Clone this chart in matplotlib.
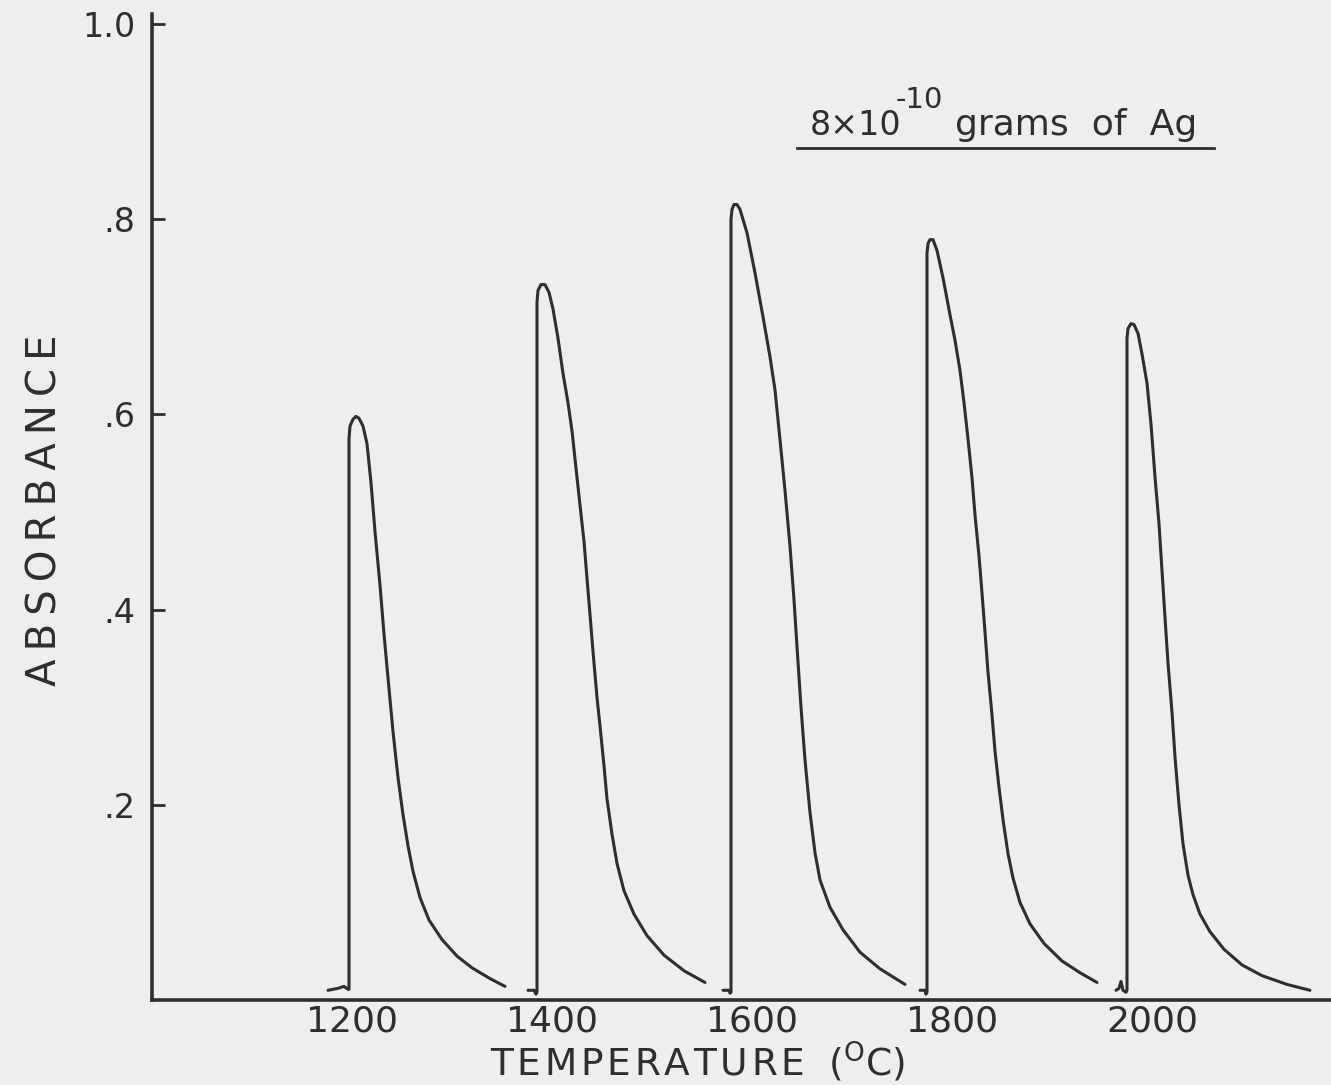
import matplotlib.pyplot as plt
from matplotlib.lines import Line2D

# Peak traces (temperature in deg C, absorbance)
peak_1200_t = [1176, 1186, 1192, 1196, 1197, 1197, 1198, 1201, 1204, 1207, 1211, 1215, 1219, 1223,
               1228, 1232, 1236, 1241, 1246, 1251, 1256, 1261, 1268, 1277, 1290, 1305, 1320, 1338, 1353]
peak_1200_a = [0.010, 0.012, 0.014, 0.011, 0.011, 0.575, 0.588, 0.595, 0.598, 0.596, 0.588, 0.570,
               0.530, 0.480, 0.425, 0.375, 0.330, 0.275, 0.228, 0.190, 0.158, 0.132, 0.105, 0.082,
               0.062, 0.045, 0.033, 0.022, 0.014]

peak_1400_t = [1376, 1382, 1384, 1385, 1385, 1386, 1389, 1393, 1397, 1401, 1406, 1411, 1416, 1420,
               1424, 1428, 1432, 1435, 1438, 1441, 1445, 1448, 1452, 1455, 1460, 1465, 1472, 1482,
               1495, 1512, 1532, 1553]
peak_1400_a = [0.010, 0.010, 0.006, 0.008, 0.715, 0.727, 0.733, 0.733, 0.725, 0.708, 0.678, 0.642,
               0.612, 0.583, 0.545, 0.507, 0.470, 0.432, 0.395, 0.357, 0.310, 0.281, 0.240, 0.206,
               0.170, 0.140, 0.112, 0.088, 0.066, 0.046, 0.030, 0.018]

peak_1600_t = [1571, 1577, 1578, 1579, 1579, 1580, 1582, 1585, 1588, 1595, 1603, 1611, 1618, 1623,
               1628, 1633, 1638, 1642, 1645, 1649, 1653, 1658, 1663, 1668, 1678, 1691, 1708, 1728,
               1753]
peak_1600_a = [0.010, 0.010, 0.007, 0.008, 0.800, 0.810, 0.815, 0.815, 0.810, 0.786, 0.745, 0.700,
               0.659, 0.625, 0.574, 0.522, 0.465, 0.410, 0.362, 0.300, 0.246, 0.192, 0.151, 0.123,
               0.095, 0.072, 0.049, 0.032, 0.016]

peak_1800_t = [1768, 1773, 1774, 1775, 1775, 1776, 1778, 1781, 1785, 1791, 1798, 1803, 1808, 1812,
               1816, 1820, 1823, 1827, 1830, 1833, 1836, 1840, 1843, 1847, 1851, 1856, 1861, 1868,
               1878, 1892, 1910, 1928, 1945]
peak_1800_a = [0.010, 0.010, 0.006, 0.008, 0.765, 0.775, 0.779, 0.779, 0.768, 0.740, 0.702, 0.676,
               0.645, 0.612, 0.575, 0.535, 0.497, 0.455, 0.417, 0.377, 0.336, 0.292, 0.255, 0.218,
               0.185, 0.150, 0.125, 0.100, 0.078, 0.058, 0.040, 0.028, 0.018]

peak_2000_t = [1964, 1967, 1969, 1971, 1974, 1975, 1975, 1976, 1979, 1982, 1986, 1990, 1995, 1999,
               2003, 2007, 2010, 2013, 2016, 2020, 2023, 2027, 2031, 2036, 2041, 2048, 2058, 2072,
               2090, 2110, 2135, 2158]
peak_2000_a = [0.010, 0.012, 0.019, 0.010, 0.008, 0.010, 0.678, 0.688, 0.693, 0.692, 0.683, 0.662,
               0.632, 0.590, 0.536, 0.488, 0.440, 0.392, 0.345, 0.295, 0.249, 0.200, 0.160, 0.128,
               0.108, 0.088, 0.070, 0.052, 0.036, 0.025, 0.016, 0.010]

temp_labels = [1200, 1400, 1600, 1800, 2000]
abs_ticks = [0.2, 0.4, 0.6, 0.8, 1.0]
abs_labels = ['.2', '.4', '.6', '.8', '1.0']

paper = '#eeeeec'
ink = '#2e2e2e'

plt.rcParams['mathtext.fontset'] = 'custom'
plt.rcParams['mathtext.rm'] = 'DejaVu Sans'

fig = plt.figure(figsize=(13.31, 10.85), dpi=100, facecolor=paper)
ax = fig.add_axes([0.1142, 0.0783, 0.8858, 0.9088], facecolor=paper)

peaks = [(peak_1200_t, peak_1200_a), (peak_1400_t, peak_1400_a), (peak_1600_t, peak_1600_a),
         (peak_1800_t, peak_1800_a), (peak_2000_t, peak_2000_a)]
for t, a in peaks:
    ax.plot(t, a, color=ink, lw=2.2, solid_joinstyle='round', solid_capstyle='round')

ax.set_xlim(1000, 2179)
ax.set_ylim(0, 1.0102)

# axes look: only left and bottom lines, ticks pointing in
for side in ['top', 'right']:
    ax.spines[side].set_visible(False)
for side in ['left', 'bottom']:
    ax.spines[side].set_linewidth(2.6)
    ax.spines[side].set_color(ink)

ax.set_yticks(abs_ticks)
ax.set_yticklabels(abs_labels, fontsize=24, color=ink)
ax.tick_params(axis='y', direction='in', length=9, width=2, color=ink, pad=12)

ax.set_xticks(temp_labels)
ax.set_xticklabels([str(v) for v in temp_labels], fontsize=26, color=ink)
ax.tick_params(axis='x', length=0, pad=3)

hair = '\u200a'
fig.text(0.524, 0.0215, hair.join('TEMPERATURE') + r'  ($^{\mathrm{O}}$C)', fontsize=27,
         color=ink, ha='center', va='center')
fig.text(0.034, 0.53, '\u2009'.join('ABSORBANCE'),
         fontsize=29, color=ink, rotation=90, ha='center', va='center')

# sample amount note, underlined
fig.text(0.6085, 0.876, '8\u00d710', fontsize=24, color=ink, ha='left', va='baseline')
fig.text(0.673, 0.9, '-10', fontsize=21, color=ink, ha='left', va='baseline')
fig.text(0.7175, 0.876, 'grams  of  Ag', fontsize=26, color=ink, ha='left', va='baseline')
fig.add_artist(Line2D([0.599, 0.912], [0.864, 0.864], transform=fig.transFigure,
                      color=ink, lw=2))

plt.savefig('out.png', dpi=100, facecolor=paper)
